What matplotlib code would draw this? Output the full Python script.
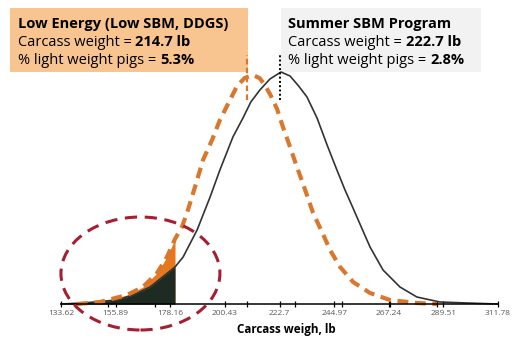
import matplotlib
matplotlib.use("Agg")
import matplotlib.pyplot as plt
from matplotlib.patches import Ellipse, Rectangle

# ---- data (x = carcass weight lb, y = relative frequency, arbitrary units)
summer_x = [133.6, 142.6, 156.4, 163.0, 169.9, 180.1, 183.4, 189.1, 194.4, 198.4, 203.7,
            207.8, 211.0, 214.7, 218.8, 223.3, 227.0, 230.5, 233.9, 238.0, 242.1, 246.1,
            249.4, 251.4, 255.5, 259.6, 264.9, 271.8, 278.7, 288.1, 299.1, 311.4]
summer_y = [0, 1, 4, 9, 17, 37, 47, 74, 107, 134, 167,
            186, 202, 214, 225, 232, 228, 218, 207, 186, 159, 134,
            114, 103, 80, 57, 34, 17, 7, 2, 1, 0]

low_x = [140.1, 149.5, 160.5, 167.0, 172.8, 176.8, 180.1, 182.9, 185.0, 189.1, 191.5,
         195.2, 198.4, 202.5, 205.4, 208.5, 211.8, 214.5, 216.5, 219.0, 221.7, 224.1,
         227.0, 229.8, 232.3, 236.4, 240.4, 243.3, 247.4, 252.7, 259.6, 267.7, 278.7, 286.9]
low_y = [0, 2, 9, 17, 31, 47, 65, 77, 91, 124, 144,
         164, 184, 204, 218, 226, 229, 226, 220, 209, 195, 177,
         157, 137, 120, 91, 70, 54, 37, 22, 11, 4, 1, 0]

cutoff = 180.1
summer_mean = 222.7
low_mark = 209.4

tick_values = [133.62, 155.89, 178.16, 200.43, 222.7, 244.97, 267.24, 289.51, 311.78]
tick_labels = ["133.62", "155.89", "178.16", "200.43", "222.7", "244.97", "267.24", "289.51", "311.78"]
minor_ticks = [152.9, 172.0, 209.4, 229.0, 248.1, 267.6, 287.0]

low_title = "Low Energy (Low SBM, DDGS)"
low_weight = "214.7 lb"
low_pct = "5.3%"
sum_title = "Summer SBM Program"
sum_weight = "222.7 lb"
sum_pct = "2.8%"

FONT = "Open Sans"
ORANGE = "#D9782D"
FILL_OR = "#E8771E"
FILL_DK = "#1E2B23"

fig = plt.figure(figsize=(5.16, 3.42), dpi=100)
ax = fig.add_axes([0, 0, 1, 1])
ax.set_xlim(108.75, 319.11)
ax.set_ylim(-38, 304)

# fills of the light-weight tails
ox = [x for x in low_x if x <= cutoff]
oy = [y for x, y in zip(low_x, low_y) if x <= cutoff]
bx = [x for x in summer_x if x <= cutoff]
by = [y for x, y in zip(summer_x, summer_y) if x <= cutoff]
ax.fill_between(ox, oy, 0, color=FILL_OR, lw=0, zorder=2)
ax.fill_between(bx, by, 0, color=FILL_DK, lw=0, zorder=3)

ax.plot(summer_x, summer_y, color="#333333", lw=1.2, zorder=4, solid_joinstyle="round")
ax.plot(low_x, low_y, color=ORANGE, lw=3.0, dashes=(2.6, 1.6), zorder=5,
        dash_capstyle="butt", dash_joinstyle="round")

# text boxes
ax.add_patch(Rectangle((112.83, 232), 209.85 - 112.83, 64, facecolor="#F8C590",
                       edgecolor="none", zorder=1))
ax.add_patch(Rectangle((223.3, 232), 304.8 - 223.3, 64, facecolor="#F2F2F2",
                       edgecolor="none", zorder=1))

# mean markers
ax.plot([low_mark, low_mark], [204, 249], color=ORANGE, lw=1.6, dashes=(2.5, 1.5), zorder=6)
ax.plot([summer_mean, summer_mean], [204, 249], color="black", lw=1.4, dashes=(1, 1.2), zorder=6)

# ellipse around the tails
ax.add_patch(Ellipse((166.0, 30.5), 64.8, 113, fill=False, edgecolor="#A61E32",
                     lw=2.2, ls=(0, (4, 2.5)), zorder=7))

fs = 10.5
def two_part(x, y, normal, bold):
    t = ax.text(x, y, normal, fontsize=fs, family=FONT, va="baseline", ha="left",
                color="black", zorder=8)
    ax.annotate(bold, xy=(1, y), xycoords=(t, "data"), fontsize=fs, family=FONT,
                fontweight="bold", va="baseline", ha="left", color="black", zorder=8)

for x0, title, w, p in [(116.0, low_title, low_weight, low_pct),
                        (226.2, sum_title, sum_weight, sum_pct)]:
    ax.text(x0, 276, title, fontsize=fs, family=FONT, fontweight="bold",
            va="baseline", ha="left", zorder=8)
    two_part(x0, 258, "Carcass weight = ", w)
    two_part(x0, 240, "% light weight pigs = ", p)

# axis
for s in ["top", "right", "left"]:
    ax.spines[s].set_visible(False)
ax.spines["bottom"].set_position(("data", 0))
ax.spines["bottom"].set_bounds(133.62, 311.78)
ax.spines["bottom"].set_linewidth(1.1)
ax.spines["bottom"].set_zorder(6)
ax.set_yticks([])
ax.set_xticks(tick_values)
ax.set_xticklabels(tick_labels, family=FONT, fontsize=6, color="#595959")
ax.set_xticks(minor_ticks, minor=True)
ax.tick_params(axis="x", which="both", direction="inout", length=5, width=0.9, pad=2)
ax.text(225.3, -26, "Carcass weigh, lb", fontsize=8.4, family=FONT, fontweight="bold",
        ha="center", va="center")

fig.savefig("out.png", dpi=100)
